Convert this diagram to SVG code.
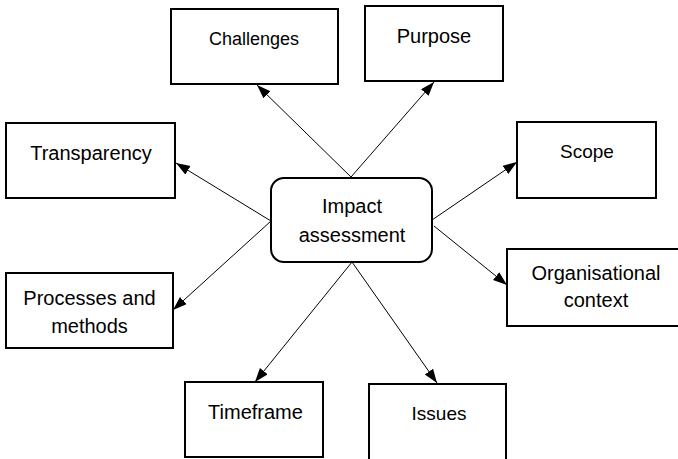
<svg xmlns="http://www.w3.org/2000/svg" width="678" height="459" viewBox="0 0 678 459">
<style>
.box{fill:#fff;stroke:#000;stroke-width:2}
.t{font-family:"Liberation Sans",Arial,sans-serif;font-size:20px;fill:#000;text-anchor:middle}
.c{stroke:#000;stroke-width:1;fill:none;marker-end:url(#ah)}
</style>
<defs>
<marker id="ah" markerUnits="userSpaceOnUse" markerWidth="15" markerHeight="11" refX="14" refY="5" orient="auto">
<path d="M0,0 L14,5 L0,10 z" fill="#000"/>
</marker>
</defs>
<rect width="678" height="459" fill="#fff"/>
<g id="connectors">
<line class="c" x1="351" y1="177" x2="257" y2="85"/>
<line class="c" x1="351" y1="177" x2="434" y2="82"/>
<line class="c" x1="271" y1="221" x2="176" y2="163"/>
<line class="c" x1="271" y1="221" x2="173" y2="310"/>
<line class="c" x1="432" y1="220" x2="517" y2="162"/>
<line class="c" x1="434" y1="226" x2="507" y2="285"/>
<line class="c" x1="352" y1="262" x2="255" y2="382"/>
<line class="c" x1="352" y1="262" x2="437" y2="383"/>
</g>
<g id="challenges"><rect class="box" x="171" y="9" width="167" height="75"/><text class="t" x="254" y="45" style="font-size:18px">Challenges</text></g>
<g id="purpose"><rect class="box" x="365" y="6" width="138" height="75"/><text class="t" x="434" y="43">Purpose</text></g>
<g id="transparency"><rect class="box" x="6" y="123" width="169" height="75"/><text class="t" x="91" y="160">Transparency</text></g>
<g id="scope"><rect class="box" x="517" y="122" width="139" height="76"/><text class="t" x="587" y="158" style="font-size:19px">Scope</text></g>
<g id="impact"><rect class="box" x="271" y="178" width="161" height="84" rx="13" ry="13"/><text class="t" x="352" y="213">Impact</text><text class="t" x="352" y="242">assessment</text></g>
<g id="organisational"><rect class="box" x="507" y="249" width="175" height="77"/><text class="t" x="596" y="280">Organisational</text><text class="t" x="596" y="307">context</text></g>
<g id="processes"><rect class="box" x="6" y="273" width="167" height="75"/><text class="t" x="89.5" y="305">Processes and</text><text class="t" x="89.5" y="333">methods</text></g>
<g id="timeframe"><rect class="box" x="185" y="382" width="138" height="75"/><text class="t" x="255.5" y="419">Timeframe</text></g>
<g id="issues"><rect class="box" x="369" y="384" width="137" height="78"/><text class="t" x="439" y="420" style="font-size:19px">Issues</text></g>
</svg>
